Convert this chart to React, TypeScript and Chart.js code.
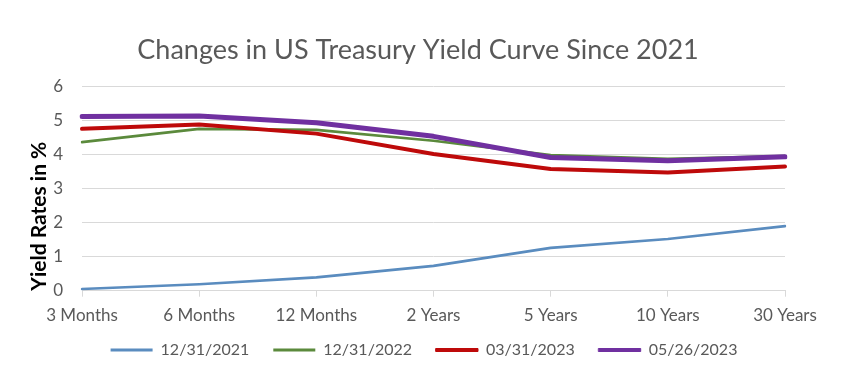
import React, { useEffect, useRef } from "react";
import { Chart, registerables } from "chart.js";

Chart.register(...registerables);

const categories = ["3 Months", "6 Months", "12 Months", "2 Years", "5 Years", "10 Years", "30 Years"];
const yields2021 = [0.05, 0.19, 0.39, 0.73, 1.26, 1.52, 1.9];
const yields2022 = [4.37, 4.76, 4.73, 4.41, 3.99, 3.88, 3.96];
const yields2023Mar = [4.76, 4.89, 4.62, 4.02, 3.58, 3.48, 3.65];
const yields2023May = [5.12, 5.14, 4.94, 4.54, 3.92, 3.82, 3.94];
const seriesLabels = ["12/31/2021", "12/31/2022", "03/31/2023", "05/26/2023"];
const yTicks = [0, 1, 2, 3, 4, 5, 6];

const FONT = "Lato, 'Open Sans', sans-serif";
const LEGEND_FIT_PAD = 16;
const LEGEND_GAP = 24;

const recenter = {
  id: "recenter",
  afterLayout(chart: any) {
    const t = chart.titleBlock;
    if (t) {
      t.left = 418 - 400;
      t.right = 418 + 400;
    }
    const l = chart.legend;
    if (l) {
      const extra = LEGEND_GAP - LEGEND_FIT_PAD;
      l.left = 424 - 400;
      l.right = 424 + 400;
      l.top -= extra;
      l.bottom -= extra;
      const n = (l.legendItems || []).length;
      l.lineWidths = (l.lineWidths || []).map((w: number) => w + extra * n);
      l.options.labels.padding = LEGEND_GAP;
    }
  },
};

export default function App() {
  const ref = useRef<HTMLCanvasElement | null>(null);

  useEffect(() => {
    if (!ref.current) return;
    const chart = new Chart(ref.current, {
      type: "line",
      data: {
        labels: categories,
        datasets: [
          { label: seriesLabels[0], data: yields2021, borderColor: "#5A8CBF", backgroundColor: "#5A8CBF", borderWidth: 2.7, order: 4 },
          { label: seriesLabels[1], data: yields2022, borderColor: "#5B8A3C", backgroundColor: "#5B8A3C", borderWidth: 2.7, order: 3 },
          { label: seriesLabels[2], data: yields2023Mar, borderColor: "#BE0A0A", backgroundColor: "#BE0A0A", borderWidth: 4, order: 2 },
          { label: seriesLabels[3], data: yields2023May, borderColor: "#7030A0", backgroundColor: "#7030A0", borderWidth: 5, order: 1 },
        ],
      },
      plugins: [recenter],
      options: {
        responsive: true,
        maintainAspectRatio: false,
        animation: false,
        elements: { point: { radius: 0, hoverRadius: 0 }, line: { tension: 0, borderCapStyle: "round", borderJoinStyle: "round" } },
        layout: { padding: { left: 27, right: 59, top: 0, bottom: 13 } },
        plugins: {
          title: {
            display: true,
            text: "Changes in US Treasury Yield Curve Since 2021",
            color: "#595959",
            font: { family: FONT, size: 27, weight: "normal" },
            padding: { top: 33.8, bottom: 20.5 },
          },
          legend: {
            position: "bottom",
            labels: {
              color: "#595959",
              font: { family: FONT, size: 16 },
              boxWidth: 42,
              boxHeight: 3,
              padding: LEGEND_FIT_PAD,
              sort: (a: any, b: any) => a.datasetIndex - b.datasetIndex,
              generateLabels: (c: any) => {
                const items = Chart.defaults.plugins.legend.labels.generateLabels(c);
                return items.map((it: any) => {
                  const ds = c.data.datasets[it.datasetIndex];
                  return { ...it, fillStyle: ds.borderColor, strokeStyle: ds.borderColor, lineWidth: ds.borderWidth >= 4 ? 1 : 0 };
                });
              },
            },
          },
          tooltip: { enabled: false },
        },
        scales: {
          x: {
            grid: { display: true, drawOnChartArea: false, drawTicks: true, tickLength: 6, color: "#D9D9D9" },
            border: { display: true, color: "#D9D9D9", width: 1 },
            ticks: { color: "#595959", font: { family: FONT, size: 17 }, padding: 9, maxRotation: 0, autoSkip: false },
            afterFit: (s: any) => { s.height = 35.3; },
          },
          y: {
            min: 0,
            max: 6,
            afterBuildTicks: (s: any) => { s.ticks = yTicks.map((v) => ({ value: v })); },
            grid: { color: "#D9D9D9", lineWidth: 1, drawTicks: false },
            border: { display: false },
            ticks: { color: "#595959", font: { family: FONT, size: 17 }, padding: 19 },
            title: {
              display: true,
              text: "Yield Rates in %",
              align: "start",
              color: "#000000",
              font: { family: FONT, size: 21, weight: "bold" },
              padding: { top: 0, bottom: 0 },
            },
            afterFit: (s: any) => { s.width = 55; },
          },
        },
      },
    });
    return () => chart.destroy();
  }, []);

  return (
    <div style={{ position: "fixed", left: 0, top: 0, width: 844, height: 381, background: "#fff" }}>
      <canvas ref={ref} />
    </div>
  );
}
